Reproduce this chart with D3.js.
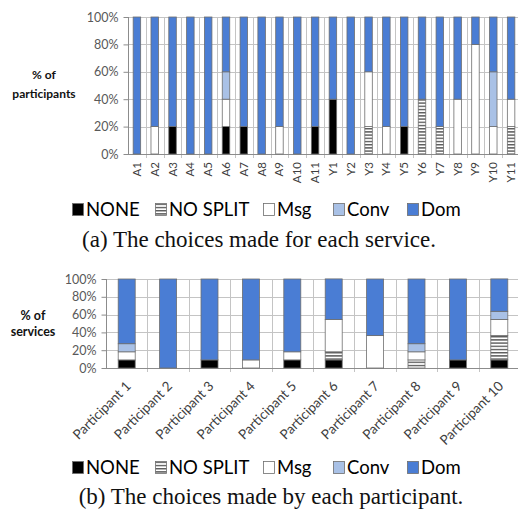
<!DOCTYPE html>
<html><head><meta charset="utf-8">
<script src="https://cdn.jsdelivr.net/npm/d3@7"></script>
<style>
html,body{margin:0;padding:0;background:#fff;}
svg{display:block;}
</style></head>
<body>
<svg id="c" width="518" height="522"></svg>
<script>
// ---------- DATA ----------
const seriesNames = ["NONE", "NO SPLIT", "Msg", "Conv", "Dom"];
const yTicks = [0, 20, 40, 60, 80, 100];

// (a) choices made for each service (% of participants)
const services = ["A1","A2","A3","A4","A5","A6","A7","A8","A9","A10","A11",
                  "Y1","Y2","Y3","Y4","Y5","Y6","Y7","Y8","Y9","Y10","Y11"];
const svcNone    = [0,0,20,0,0,20,20,0,0,0,20, 40,0,0,0,20,0,0,0,0,0,0];
const svcNoSplit = [0,0,0,0,0,0,0,0,0,0,0,     0,0,20,0,0,40,20,0,0,0,20];
const svcMsg     = [0,20,0,0,0,20,0,0,20,0,0,  0,0,40,20,0,0,0,40,80,20,20];
const svcConv    = [0,0,0,0,0,20,0,0,0,0,0,    0,0,0,0,0,0,0,0,0,40,0];
const svcDom     = [100,80,80,100,100,40,80,100,80,100,80, 60,100,40,80,80,60,80,60,20,40,60];

// (b) choices made by each participant (% of services)
const participants = ["Participant 1","Participant 2","Participant 3","Participant 4","Participant 5",
                      "Participant 6","Participant 7","Participant 8","Participant 9","Participant 10"];
const parNone    = [9.1,0,9.1,0,9.1,9.1,0,0,9.1,9.1];
const parNoSplit = [0,0,0,0,0,9.1,0,9.1,0,27.3];
const parMsg     = [9.1,0,0,9.1,9.1,36.4,36.4,9.1,0,18.2];
const parConv    = [9.1,0,0,0,0,0,0,9.1,0,9.1];
const parDom     = [72.7,100,90.9,90.9,81.8,45.5,63.6,72.7,90.9,36.4];

// ---------- STYLE ----------
const fills = ["#000000", "url(#nosplit)", "#ffffff", "#a9c1e6", "#4a7dd4"];
const sansFont = "Lato, 'Open Sans', sans-serif";
const serifFont = "'Liberation Serif', 'DejaVu Serif', serif";

const svg = d3.select("#c");
const defs = svg.append("defs");
const pat = defs.append("pattern").attr("id","nosplit").attr("patternUnits","userSpaceOnUse")
  .attr("width",4).attr("height",3.2);
pat.append("rect").attr("width",4).attr("height",3.2).attr("fill","#ffffff");
pat.append("rect").attr("y",0).attr("width",4).attr("height",1.4).attr("fill","#5a5a5a");

function buildTable(cats, arrs){
  return cats.map((c,i)=>{
    const o = {cat:c};
    seriesNames.forEach((s,j)=>o[s]=arrs[j][i]);
    return o;
  });
}

function drawChart(cfg){
  const g = svg.append("g");
  const x = d3.scaleBand().domain(cfg.cats).range([cfg.x0, cfg.x1]).padding(0);
  const y = d3.scaleLinear().domain([0,100]).range([cfg.yBottom, cfg.yTop]);
  const step = x.step();

  // horizontal gridlines
  g.append("g").selectAll("line").data(yTicks.filter(d=>d>0)).join("line")
    .attr("x1", cfg.x0).attr("x2", cfg.x1 + 5)
    .attr("y1", d=>Math.round(y(d))+0.5).attr("y2", d=>Math.round(y(d))+0.5)
    .attr("stroke","#c4c4c4").attr("stroke-width",1);
  // vertical gridlines at category boundaries
  const bounds = cfg.cats.map(c=>x(c)).concat([cfg.x1]);
  g.append("g").selectAll("line").data(bounds.slice(1)).join("line")
    .attr("x1", d=>Math.round(d)+0.5).attr("x2", d=>Math.round(d)+0.5)
    .attr("y1", y(100)).attr("y2", y(0)+4)
    .attr("stroke","#c4c4c4").attr("stroke-width",1);

  // y axis
  const ya = g.append("g").attr("transform",`translate(${Math.round(cfg.x0)+0.5},0)`)
    .call(d3.axisLeft(y).tickValues(yTicks).tickFormat(d=>d+"%").tickSize(5).tickPadding(5));
  ya.select(".domain").attr("stroke","#8c8c8c").attr("d",`M0,${y(100)}V${y(0)}`);
  ya.selectAll(".tick line").attr("stroke","#8c8c8c");
  ya.selectAll(".tick text").attr("font-family",sansFont).attr("font-size",cfg.tickFont)
    .attr("fill","#595959");

  // x axis line
  g.append("line").attr("x1",cfg.x0).attr("x2",cfg.x1+5)
    .attr("y1",Math.round(y(0))+0.5).attr("y2",Math.round(y(0))+0.5)
    .attr("stroke","#8c8c8c");

  // stacked bars
  const table = buildTable(cfg.cats, cfg.arrs);
  const stacked = d3.stack().keys(seriesNames)(table);
  stacked.forEach((layer,j)=>{
    g.append("g").selectAll("rect").data(layer.filter(d=>d[1]-d[0]>0)).join("rect")
      .attr("x", d=>x(d.data.cat)+(step-cfg.barW)/2)
      .attr("width", cfg.barW)
      .attr("y", d=>y(d[1]))
      .attr("height", d=>y(d[0])-y(d[1]))
      .attr("fill", fills[j])
      .attr("stroke", "#6e6e6e").attr("stroke-width",0.8);
  });

  // category labels
  g.append("g").selectAll("text").data(cfg.cats).join("text")
    .attr("font-family",sansFont).attr("font-size",cfg.catFont).attr("fill","#404040")
    .attr("text-anchor","end")
    .attr("transform", d=>{
      const cx = x(d)+step/2;
      return cfg.rot===-90
        ? `translate(${cx+4},${y(0)+8}) rotate(-90)`
        : `translate(${cx+5},${y(0)+19}) rotate(-45)`;
    })
    .text(d=>d);

  // y title
  const t = g.append("text").attr("font-family",sansFont).attr("font-size",cfg.titleFont)
    .attr("font-weight","bold").attr("fill","#111").attr("text-anchor","middle");
  cfg.title.forEach((line,i)=>t.append("tspan").attr("x",cfg.titleX).attr("y",cfg.titleY+i*cfg.titleLH).text(line));

  // legend
  const lg = g.append("g").attr("transform",`translate(0,${cfg.legendY})`);
  const lx = [72, 155, 263, 333, 407];
  seriesNames.forEach((s,j)=>{
    lg.append("rect").attr("x",lx[j]+0.5).attr("y",-6.5).attr("width",11).attr("height",12)
      .attr("fill",fills[j]).attr("stroke","#6e6e6e").attr("stroke-width",0.8);
    lg.append("text").attr("x",lx[j]+14).attr("y",6).attr("font-family",sansFont)
      .attr("font-size",18.5).attr("fill","#000").text(s);
  });

  // caption
  svg.append("text").attr("x",cfg.capX).attr("y",cfg.capY).attr("text-anchor","middle")
    .attr("font-family",serifFont).attr("font-size",23).attr("fill","#111").text(cfg.caption);
}

drawChart({
  cats: services, arrs:[svcNone,svcNoSplit,svcMsg,svcConv,svcDom],
  x0:128, x1:520, yTop:17, yBottom:154, barW:7.5, rot:-90,
  tickFont:12.5, catFont:11.5, titleFont:12, title:["% of","participants"],
  titleX:44, titleY:79, titleLH:19, legendY:210,
  capX:259, capY:247, caption:"(a) The choices made for each service."
});

drawChart({
  cats: participants, arrs:[parNone,parNoSplit,parMsg,parConv,parDom],
  x0:106, x1:520, yTop:279, yBottom:368, barW:17, rot:-45,
  tickFont:12.5, catFont:13.5, titleFont:12.5, title:["% of","services"],
  titleX:33, titleY:320, titleLH:16, legendY:468,
  capX:271, capY:504, caption:"(b) The choices made by each participant."
});
</script>
</body></html>
